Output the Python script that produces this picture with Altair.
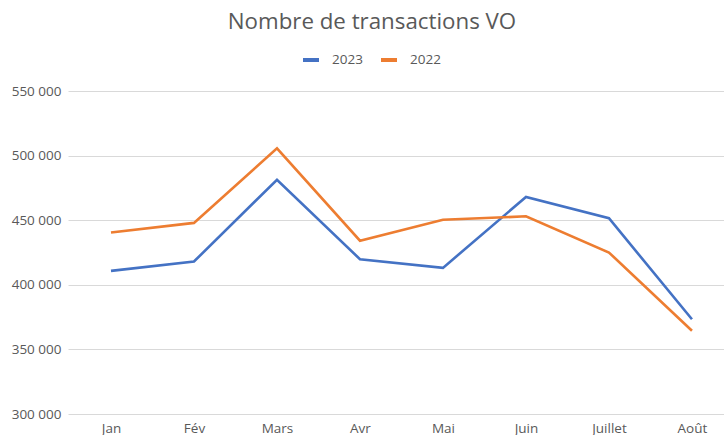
import altair as alt
import pandas as pd

months = ["Jan", "Fév", "Mars", "Avr", "Mai", "Juin", "Juillet", "Août"]
v2023 = [410800, 418000, 481300, 419800, 413100, 468000, 451500, 373300]
v2022 = [440500, 447900, 505600, 434100, 450300, 453000, 425000, 364400]
series = ["2023", "2022"]

rows = []
for i, m in enumerate(months):
    rows.append({"i": i, "mois": m, "annee": "2023", "valeur": v2023[i]})
    rows.append({"i": i, "mois": m, "annee": "2022", "valeur": v2022[i]})
df = pd.DataFrame(rows)

label_arr = "[" + ",".join("'" + m + "'" for m in months) + "]"

font = "Open Sans"
grey = "#595959"

chart = alt.Chart(df).mark_line(strokeWidth=2.6).encode(
    x=alt.X("i:Q",
            scale=alt.Scale(domain=[-0.518, 7.386], nice=False, zero=False),
            axis=alt.Axis(values=list(range(len(months))), labelExpr=label_arr + "[datum.value]",
                          title=None, grid=False, ticks=False, domain=False,
                          labelPadding=7, labelFontSize=13.5, labelColor=grey, labelFont=font)),
    y=alt.Y("valeur:Q",
            scale=alt.Scale(domain=[300000, 550000], nice=False, zero=False),
            axis=alt.Axis(values=[300000, 350000, 400000, 450000, 500000, 550000],
                          labelExpr="replace(format(datum.value, ','), ',', ' ')",
                          title=None, ticks=False, domain=False, gridColor="#d9d9d9",
                          gridWidth=1, labelPadding=7, labelFontSize=13.5, labelColor=grey,
                          labelFont=font)),
    color=alt.Color("annee:N",
                    scale=alt.Scale(domain=series, range=["#4472C4", "#ED7D31"]),
                    legend=alt.Legend(title=None, orient="none", direction="horizontal",
                                      legendX=233, legendY=-41, symbolType="stroke",
                                      symbolStrokeWidth=4, symbolSize=256,
                                      labelOffset=11,
                                      labelFontSize=13.5, labelColor=grey, labelFont=font,
                                      columnPadding=10, symbolOffset=0)),
    detail="annee:N",
).properties(
    width=656,
    height=323,
    padding={"left": 68, "top": 91, "right": 0, "bottom": 21},
    autosize=alt.AutoSizeParams(type="none"),
    title=alt.Title("Nombre de transactions VO", fontSize=22.3, font=font, color=grey,
                    fontWeight="normal", anchor="middle", offset=17, dx=-24),
).configure_view(stroke=None)

chart.save("out.html", embed_options={"renderer": "svg", "actions": False})
